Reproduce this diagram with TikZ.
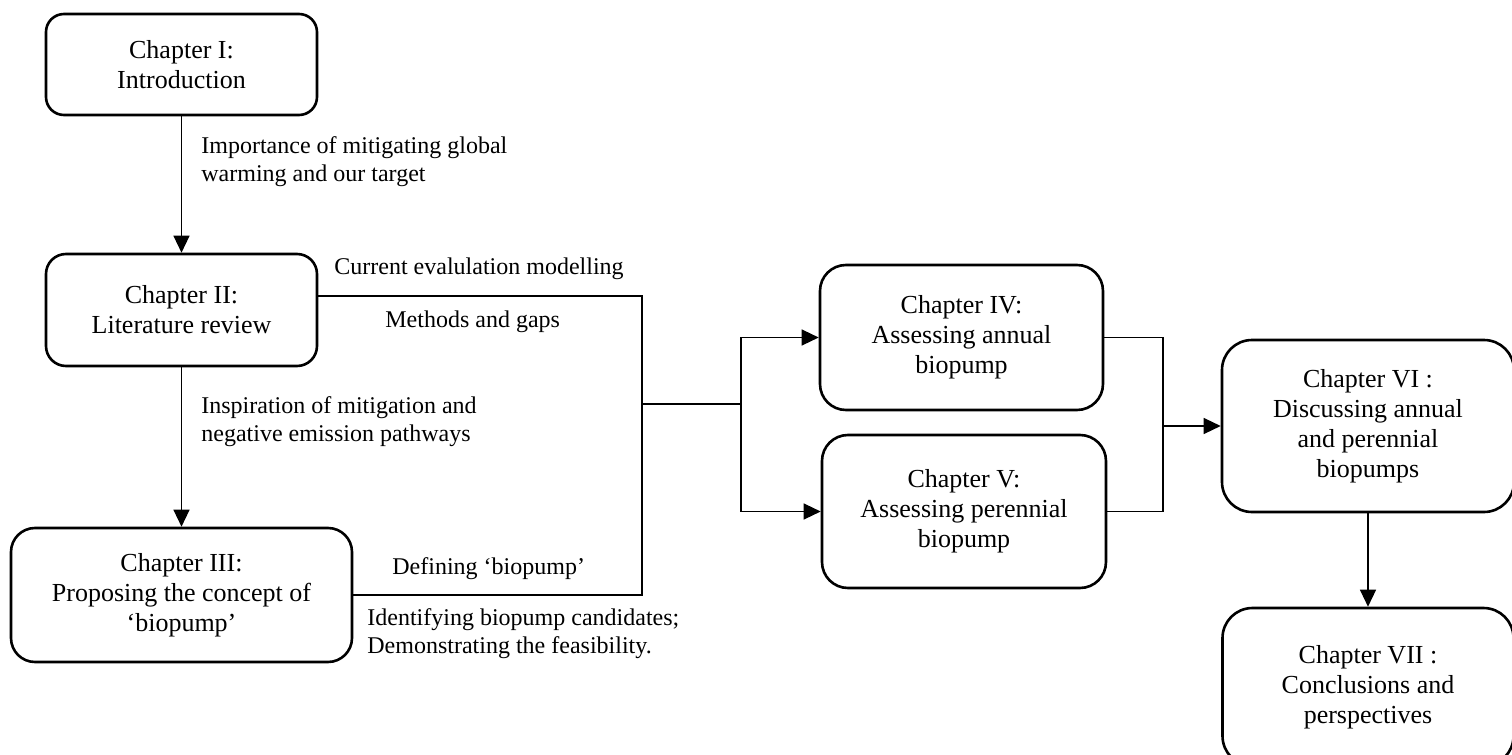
\documentclass[tikz,border=0pt]{standalone}
\usepackage{fontspec}
\setmainfont{Liberation Serif}
\usetikzlibrary{arrows.meta}
\begin{document}
\begin{tikzpicture}[x=0.5pt,y=-0.5pt,
  chap/.style={draw, line width=1.3pt, rounded corners=#1, align=center, inner sep=0pt,
    font=\fontsize{13}{15}\selectfont},
  chap/.default=10pt,
  lbl/.style={align=left, inner sep=0pt, font=\fontsize{12}{14}\selectfont},
  conn/.style={line width=0.65pt},
  arr/.style={conn, -{Triangle[length=8.5pt,width=8pt]}}]
\useasboundingbox (0,0) rectangle (1512,755);
\clip (0,0) rectangle (1512,755);

% chapter boxes
\node[chap=9pt, minimum width=135.5pt, minimum height=50.5pt] (I) at (181.5,64.5) {Chapter I:\\Introduction};
\node[chap=10pt, minimum width=135.5pt, minimum height=56pt] (II) at (181.5,310) {Chapter II:\\Literature review};
\node[chap=12pt, minimum width=170.5pt, minimum height=67pt] (III) at (181.5,595) {Chapter III:\\Proposing the concept of\\‘biopump’};
\node[chap=13pt, minimum width=141.5pt, minimum height=72.5pt] (IV) at (961.5,337.5) {Chapter IV:\\Assessing annual\\biopump};
\node[chap=13pt, minimum width=142pt, minimum height=76.5pt] (V) at (964,511.5) {Chapter V:\\Assessing perennial\\biopump};
\node[chap=15pt, minimum width=146pt, minimum height=86pt] (VI) at (1368,426) {Chapter VI :\\Discussing annual\\and perennial\\biopumps};
\node[chap=15pt, minimum width=145.5pt, minimum height=79pt] (VII) at (1368,687) {Chapter VII :\\Conclusions and\\perspectives};

% labels
\node[lbl, anchor=west] (L1) at (201,162) {Importance of mitigating global\\warming and our target};
\node[lbl, anchor=west] (L2) at (334,269) {Current evalulation modelling};
\node[lbl, anchor=west] (L3) at (385,322) {Methods and gaps};
\node[lbl, anchor=west] (L4) at (201,422) {Inspiration of mitigation and\\negative emission pathways};
\node[lbl, anchor=west] (L5) at (392,569) {Defining ‘biopump’};
\node[lbl, anchor=west] (L6) at (367,634) {Identifying biopump candidates;\\Demonstrating the feasibility.};

% junction points
\coordinate (j) at (642,404);
\coordinate (k) at (741,404);
\coordinate (m) at (1163,426);

% connectors
\draw[arr] (I.south) -- (II.north);
\draw[arr] (II.south) -- (III.north);
\draw[conn] ([yshift=7pt]II.east) -| (j);
\draw[conn] (III.east) -| (j);
\draw[conn] (j) -- (k);
\draw[arr] (k) |- (IV.west);
\draw[arr] (k) |- (V.west);
\draw[conn] (IV.east) -| (m);
\draw[conn] (V.east) -| (m);
\draw[arr] (m) -- (VI.west);
\draw[arr] (VI.south) -- (VII.north);
\end{tikzpicture}
\end{document}
